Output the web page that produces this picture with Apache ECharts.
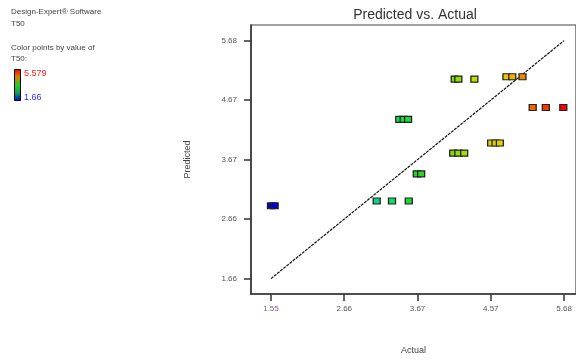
<!DOCTYPE html>
<html>
<head>
<meta charset="utf-8">
<script src="https://cdn.jsdelivr.net/npm/echarts@6/dist/echarts.min.js"></script>
<style>
  html, body { margin: 0; padding: 0; background: #fff; }
  #chart { width: 576px; height: 360px; }
</style>
</head>
<body>
<div id="chart"></div>
<script>
// Observed (actual) and model-predicted T50 for each run
const actual    = [1.66, 1.71, 3.11, 3.32, 3.55, 3.42, 3.48, 3.54, 3.66, 3.72, 4.16, 4.23, 4.31,
                   4.68, 4.74, 4.80, 4.18, 4.23, 4.45, 4.89, 4.97, 5.11, 5.25, 5.43, 5.67];
const predicted = [2.89, 2.89, 2.97, 2.97, 2.97, 4.35, 4.35, 4.35, 3.43, 3.43, 3.78, 3.78, 3.78,
                   3.95, 3.95, 3.95, 5.03, 5.03, 5.03, 5.07, 5.07, 5.07, 4.55, 4.55, 4.55];

// Axis ticks
const tickValues  = [1.66, 2.665, 3.67, 4.675, 5.68];
const xTickLabels = ['1.55', '2.66', '3.67', '4.57', '5.68'];
const yTickLabels = ['1.66', '2.66', '3.67', '4.67', '5.68'];

// Colour legend end labels
const legendMax = '5.579';
const legendMin = '1.66';

// Reference line: predicted = actual
const diagonal = [[1.66, 1.66], [5.68, 5.68]];

const points = actual.map((a, i) => [a, predicted[i]]);

function labelFor(list, v) {
  let best = 0;
  tickValues.forEach((t, i) => { if (Math.abs(t - v) < Math.abs(tickValues[best] - v)) best = i; });
  return list[best];
}

const FONT = 'Liberation Sans, Arial, sans-serif';
const chart = echarts.init(document.getElementById('chart'), null, { renderer: 'canvas' });

chart.setOption({
  animation: false,
  backgroundColor: '#ffffff',
  grid: {
    left: 251, right: -2, top: 25, bottom: 61,
    show: true, borderColor: '#444', borderWidth: 1.2, backgroundColor: 'transparent'
  },
  xAxis: {
    type: 'value',
    min: 1.386, max: 5.844,
    name: 'Actual',
    nameLocation: 'middle',
    nameGap: 52,
    nameTextStyle: { fontFamily: FONT, fontSize: 9, color: '#444' },
    axisLine: { show: true, lineStyle: { color: '#333', width: 1.5 } },
    axisTick: { show: true, customValues: tickValues, length: 7, lineStyle: { color: '#333', width: 1.5 } },
    axisLabel: {
      customValues: tickValues,
      margin: 11,
      fontFamily: FONT, fontSize: 8,
      color: (v) => (Math.abs(v - tickValues[0]) < 1e-6 ? '#7a5c8c' : '#555'),
      formatter: (v) => labelFor(xTickLabels, v)
    },
    splitLine: { show: false }
  },
  yAxis: {
    type: 'value',
    min: 1.40, max: 5.944,
    name: 'Predicted',
    nameLocation: 'middle',
    nameGap: 59,
    nameRotate: 90,
    nameTextStyle: { fontFamily: FONT, fontSize: 9, color: '#444' },
    axisLine: { show: true, lineStyle: { color: '#333', width: 1.5 } },
    axisTick: { show: true, customValues: tickValues, length: 7, lineStyle: { color: '#333', width: 1.5 } },
    axisLabel: {
      customValues: tickValues,
      margin: 14,
      fontFamily: FONT, fontSize: 8, color: '#555',
      formatter: (v) => labelFor(yTickLabels, v)
    },
    splitLine: { show: false }
  },
  visualMap: {
    show: false,
    type: 'continuous',
    seriesIndex: 1,
    dimension: 0,
    min: 1.66, max: 5.67,
    inRange: {
      color: ['#0000d0', '#0030d8', '#0070d0', '#00c0b0', '#10e070', '#20d820',
              '#70d800', '#c8e000', '#f0c800', '#f06000', '#ff0000']
    }
  },
  series: [
    {
      type: 'line',
      data: diagonal,
      symbol: 'none',
      silent: true,
      lineStyle: { color: '#111', width: 1.2, type: [3, 1] },
      z: 1
    },
    {
      type: 'scatter',
      data: points,
      symbol: 'rect',
      symbolSize: [7, 6],
      itemStyle: { borderColor: '#222', borderWidth: 1.2, opacity: 1 },
      z: 2
    }
  ],
  graphic: [
    { type: 'text', left: 11, top: 8,
      style: { text: 'Design-Expert® Software', font: '8px ' + FONT, fill: '#444' } },
    { type: 'text', left: 11, top: 20,
      style: { text: 'T50', font: '8px ' + FONT, fill: '#444' } },
    { type: 'text', left: 11, top: 44,
      style: { text: 'Color points by value of', font: '8px ' + FONT, fill: '#444' } },
    { type: 'text', left: 11, top: 55,
      style: { text: 'T50:', font: '8px ' + FONT, fill: '#444' } },
    { type: 'rect', shape: { x: 14.5, y: 69.5, width: 6, height: 31 },
      style: {
        stroke: '#000', lineWidth: 1,
        fill: new echarts.graphic.LinearGradient(0, 0, 0, 1, [
          { offset: 0, color: '#ff0000' },
          { offset: 0.25, color: '#e08000' },
          { offset: 0.5, color: '#20d020' },
          { offset: 0.75, color: '#10a060' },
          { offset: 1, color: '#0000d0' }
        ])
      } },
    { type: 'text', left: 24, top: 69,
      style: { text: legendMax, font: '9px ' + FONT, fill: '#ff2020' } },
    { type: 'text', left: 24, top: 93,
      style: { text: legendMin, font: '9px ' + FONT, fill: '#3030ff' } },
    { type: 'text', x: 415, y: 8,
      style: { text: 'Predicted vs. Actual', font: '14px ' + FONT, fill: '#333', textAlign: 'center' } }
  ]
});
</script>
</body>
</html>
